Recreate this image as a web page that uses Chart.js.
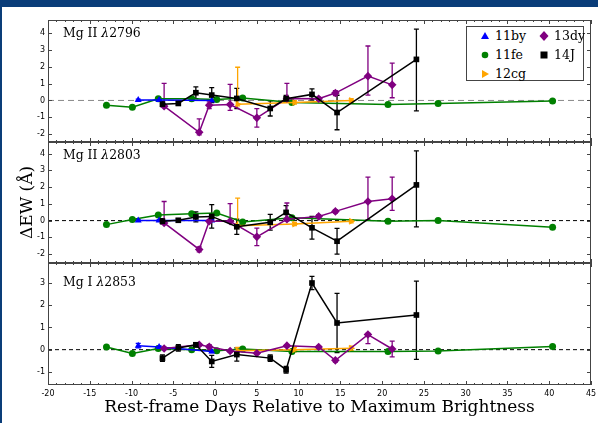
<!DOCTYPE html>
<html>
<head>
<meta charset="utf-8">
<script src="https://cdn.jsdelivr.net/npm/chart.js@4.4.0/dist/chart.umd.min.js"></script>
<style>
  body { margin: 0; background: #fff; }
  #wrap { position: relative; width: 598px; height: 423px; overflow: hidden; background: #fff; }
  #topbar { position: absolute; left: 0; top: 0; width: 598px; height: 7px; background: #0a3d79; }
  #leftbar { position: absolute; left: 0; top: 0; width: 2px; height: 423px; background: #0a3d79; }
  .panel { position: absolute; left: 0; width: 598px; }
  .lab { position: absolute; left: 63px; font-family: "DejaVu Serif", serif; font-size: 12.4px; line-height: 13px; white-space: nowrap; color: #000; }
  #legend { position: absolute; left: 466px; top: 26px; width: 116px; height: 53px; border: 1px solid #444; background: #fff;
            font-family: "DejaVu Serif", serif; font-size: 12.5px; line-height: 13px; color: #000; }
  .item { position: absolute; white-space: nowrap; }
  .item svg { position: absolute; left: -15px; top: 2px; }
</style>
</head>
<body>
<div id="wrap">
  <div id="topbar"></div>
  <div id="leftbar"></div>
  <div class="panel" style="top:20px;height:122px"><canvas id="c1"></canvas></div>
  <div class="panel" style="top:142px;height:121px"><canvas id="c2"></canvas></div>
  <div class="panel" style="top:263px;height:160px"><canvas id="c3"></canvas></div>
  <div class="lab" style="top:26px">Mg II <i>λ</i>2796</div>
  <div class="lab" style="top:148px">Mg II <i>λ</i>2803</div>
  <div class="lab" style="top:275px">Mg I <i>λ</i>2853</div>
  <div id="legend">
    <div class="item" style="left:28px;top:2px"><svg width="10" height="10"><polygon points="5,1 9,8 1,8" fill="#0000ff"/></svg>11by</div>
    <div class="item" style="left:28px;top:21px"><svg width="10" height="10"><circle cx="5" cy="5" r="3.3" fill="#008000"/></svg>11fe</div>
    <div class="item" style="left:28px;top:40px"><svg width="10" height="10"><polygon points="2,1 9,5 2,9" fill="#ffa500"/></svg>12cg</div>
    <div class="item" style="left:87px;top:2px"><svg width="10" height="10"><polygon points="5,0 9.5,5 5,10 0.5,5" fill="#800080"/></svg>13dy</div>
    <div class="item" style="left:87px;top:21px"><svg width="10" height="10"><rect x="1.5" y="1.5" width="7" height="7" fill="#000"/></svg>14J</div>
  </div>
</div>
<script>
// rest-frame days for each supernova
const days11by = [-9.2, -6.7, -0.4];
const days11fe = [-13.0, -9.9, -6.8, -2.8, 0.2, 3.3, 9.2, 20.7, 26.7, 40.4];
const days12cg = [2.7, 9.5, 16.3];
const days13dy = [-6.1, -1.9, -0.7, 1.8, 5.0, 8.6, 12.4, 14.4, 18.3, 21.2];
const days14J = [-6.3, -4.4, -2.3, -0.4, 2.6, 6.6, 8.5, 11.6, 14.6, 24.1];

// Mg II 2796
const by2796 = [0.03, 0.02, 0.0];
const fe2796 = [-0.28, -0.40, 0.10, 0.10, 0.06, 0.15, -0.12, -0.24, -0.18, -0.04];
const cg2796 = [-0.22, -0.12, 0.0];
const dy2796 = [-0.34, -1.9, -0.28, -0.24, -1.04, 0.12, 0.1, 0.44, 1.45, 0.93];
const j2796 = [-0.22, -0.18, 0.46, 0.32, 0.12, -0.48, 0.1, 0.36, -0.72, 2.45];
const errBy2796 = [0.05, 0.05, 0.05];
const errCg2796 = [[0.1, 2.2], 0.1, 0.1];
const errDy2796 = [[0.05, 1.36], [0.15, 0.8], 0.2, [0.35, 1.2], 0.55, [0.1, 0.9], 0.1, 0.15, [1.13, 1.8], [0.77, 1.3]];
const errJ2796 = [0.15, 0.1, 0.35, 0.45, 0.6, 0.45, 0.2, 0.33, 1.03, [3.07, 1.8]];

// Mg II 2803
const by2803 = [0.0, 0.0, 0.0];
const fe2803 = [-0.24, 0.06, 0.34, 0.41, 0.45, -0.08, 0.17, -0.04, 0.0, -0.40];
const cg2803 = [-0.3, -0.2, -0.04];
const dy2803 = [-0.14, -1.72, -0.04, -0.04, -0.97, 0.08, 0.25, 0.55, 1.14, 1.30];
const j2803 = [-0.04, 0.02, 0.22, 0.25, -0.37, -0.1, 0.49, -0.43, -1.23, 2.13];
const errBy2803 = [0.05, 0.05, 0.05];
const errCg2803 = [[0.1, 1.64], 0.1, 0.1];
const errDy2803 = [[0.05, 1.28], 0.15, 0.1, [0.1, 1.05], 0.52, [0.1, 0.97], 0.1, 0.1, [1.08, 1.45], [0.69, 1.29]];
const errJ2803 = [0.15, 0.1, 0.3, 0.7, 0.45, 0.47, 0.4, 0.68, 0.77, [2.5, 2.03]];

// Mg I 2853
const by2853 = [0.18, 0.12, -0.08];
const fe2853 = [0.12, -0.17, 0.05, 0.0, -0.05, 0.03, -0.08, -0.08, -0.06, 0.14];
const cg2853 = [-0.05, 0.0, 0.06];
const dy2853 = [0.05, 0.22, 0.13, -0.06, -0.16, 0.18, 0.12, -0.48, 0.68, 0.03];
const j2853 = [-0.38, 0.08, 0.22, -0.53, -0.22, -0.38, -0.9, 3.0, 1.2, 1.56];
const errBy2853 = [0.1, 0.05, 0.05];
const errCg2853 = [0.15, 0.1, 0.1];
const errDy2853 = [0.05, 0.05, 0.1, 0.05, 0.05, 0.05, 0.05, 0.08, [0.41, 0.05], 0.35];
const errJ2853 = [0.15, 0.15, 0.1, 0.27, 0.3, 0.15, 0.15, 0.3, 1.33, [2.0, 1.52]];

const xTicks = [-20, -15, -10, -5, 0, 5, 10, 15, 20, 25, 30, 35, 40, 45];

Chart.defaults.animation = false;
Chart.defaults.font.family = "DejaVu Sans";

function pts(days, vals) {
  return days.map(function (d, i) { return { x: d, y: vals[i] }; });
}

function series(label, color, style, radius, days, vals, errs, rot) {
  return {
    label: label,
    data: pts(days, vals),
    errs: errs,
    borderColor: color,
    backgroundColor: color,
    borderWidth: 1.5,
    pointStyle: style,
    pointRadius: radius,
    pointRotation: rot || 0,
    pointBorderWidth: 0,
    tension: 0,
  };
}

// error bars, zero line, inward ticks and frame
const extras = {
  id: "extras",
  beforeDatasetsDraw: function (chart) {
    const ctx = chart.ctx;
    const xs = chart.scales.x, ys = chart.scales.y;
    const a = chart.chartArea;
    const y0 = ys.getPixelForValue(0);
    ctx.save();
    ctx.strokeStyle = chart.options.zeroColor;
    ctx.lineWidth = 1;
    ctx.setLineDash(chart.options.zeroDash);
    ctx.beginPath();
    ctx.moveTo(a.left, y0);
    ctx.lineTo(a.right, y0);
    ctx.stroke();
    ctx.setLineDash([]);
    chart.data.datasets.forEach(function (ds) {
      if (!ds.errs) return;
      ctx.strokeStyle = ds.borderColor;
      ctx.lineWidth = 1.3;
      ds.data.forEach(function (p, j) {
        const e = ds.errs[j];
        const lo = Array.isArray(e) ? e[0] : e;
        const hi = Array.isArray(e) ? e[1] : e;
        const x = xs.getPixelForValue(p.x);
        const y1 = ys.getPixelForValue(p.y - lo);
        const y2 = ys.getPixelForValue(p.y + hi);
        ctx.beginPath();
        ctx.moveTo(x, y1); ctx.lineTo(x, y2);
        ctx.moveTo(x - 2.5, y1); ctx.lineTo(x + 2.5, y1);
        ctx.moveTo(x - 2.5, y2); ctx.lineTo(x + 2.5, y2);
        ctx.stroke();
      });
    });
    ctx.restore();
  },
  afterDraw: function (chart) {
    const ctx = chart.ctx;
    const xs = chart.scales.x, ys = chart.scales.y;
    const a = chart.chartArea;
    ctx.save();
    ctx.strokeStyle = "#444";
    ctx.lineWidth = 1;
    ctx.beginPath();
    for (let d = -20; d <= 45; d++) {
      const x = Math.round(xs.getPixelForValue(d)) + 0.5;
      const len = d % 5 === 0 ? 4 : 2;
      ctx.moveTo(x, a.bottom); ctx.lineTo(x, a.bottom - len);
      ctx.moveTo(x, a.top); ctx.lineTo(x, a.top + len);
    }
    for (let v = Math.ceil(ys.min); v <= Math.floor(ys.max); v++) {
      const y = Math.round(ys.getPixelForValue(v)) + 0.5;
      ctx.moveTo(a.left, y); ctx.lineTo(a.left + 4, y);
      ctx.moveTo(a.right, y); ctx.lineTo(a.right - 4, y);
    }
    ctx.stroke();
    ctx.strokeRect(Math.round(a.left) + 0.5, Math.round(a.top) + 0.5, Math.round(a.width) - 1, Math.round(a.height) - 1);
    ctx.restore();
  },
};

function makePanel(id, sets, yMin, yMax, zeroColor, zeroDash, showX, yTitle) {
  const xScale = {
    type: "linear",
    min: -20,
    max: 45,
    display: showX,
    grid: { display: false, drawTicks: false },
    border: { display: false },
    afterBuildTicks: function (s) { s.ticks = xTicks.map(function (v) { return { value: v }; }); },
    ticks: { font: { size: 8 }, color: "#000", padding: 4, maxRotation: 0, autoSkip: false },
    title: {
      display: showX,
      text: "Rest-frame Days Relative to Maximum Brightness",
      font: { family: "DejaVu Serif", size: 17 },
      color: "#000",
      padding: { top: 0, bottom: 5 },
    },
    afterFit: function (s) {
      s.height = showX ? 38 : 0;
      s.paddingLeft = 0; s.paddingRight = 0; s.paddingTop = 0; s.paddingBottom = 0;
    },
  };
  const yScale = {
    type: "linear",
    min: yMin,
    max: yMax,
    grid: { display: false, drawTicks: false },
    border: { display: false },
    ticks: { stepSize: 1, includeBounds: false, font: { size: 8 }, color: "#000", padding: 3 },
    title: {
      display: !!yTitle,
      text: yTitle || "",
      font: { family: "DejaVu Serif", size: 17 },
      color: "#000",
      padding: { top: 17, bottom: 0 },
    },
    afterFit: function (s) {
      s.width = 48;
      s.paddingLeft = 0; s.paddingRight = 0; s.paddingTop = 0; s.paddingBottom = 0;
    },
  };
  return new Chart(document.getElementById(id), {
    type: "line",
    data: { datasets: sets },
    options: {
      responsive: true,
      maintainAspectRatio: false,
      zeroColor: zeroColor,
      zeroDash: zeroDash,
      layout: { autoPadding: false, padding: { left: 0, right: 7, top: 0, bottom: 0 } },
      plugins: { legend: { display: false }, tooltip: { enabled: false } },
      scales: { x: xScale, y: yScale },
    },
    plugins: [extras],
  });
}

function panelSets(by, fe, cg, dy, j, eBy, eCg, eDy, eJ) {
  return [
    series("14J", "#000000", "rect", 4, days14J, j, eJ),
    series("13dy", "#800080", "rectRot", 4.3, days13dy, dy, eDy),
    series("12cg", "#ffa500", "triangle", 4, days12cg, cg, eCg, 90),
    series("11by", "#0000ff", "triangle", 4, days11by, by, eBy),
    series("11fe", "#008000", "circle", 3.5, days11fe, fe, null),
  ];
}

makePanel("c1", panelSets(by2796, fe2796, cg2796, dy2796, j2796, errBy2796, errCg2796, errDy2796, errJ2796),
  -2.48, 4.8, "#888", [6, 4], false, null);
makePanel("c2", panelSets(by2803, fe2803, cg2803, dy2803, j2803, errBy2803, errCg2803, errDy2803, errJ2803),
  -2.53, 4.69, "#000", [4, 3], false, "ΔEW (Å)");
makePanel("c3", panelSets(by2853, fe2853, cg2853, dy2853, j2853, errBy2853, errCg2853, errDy2853, errJ2853),
  -1.59, 3.9, "#000", [4, 3], true, null);
</script>
</body>
</html>
